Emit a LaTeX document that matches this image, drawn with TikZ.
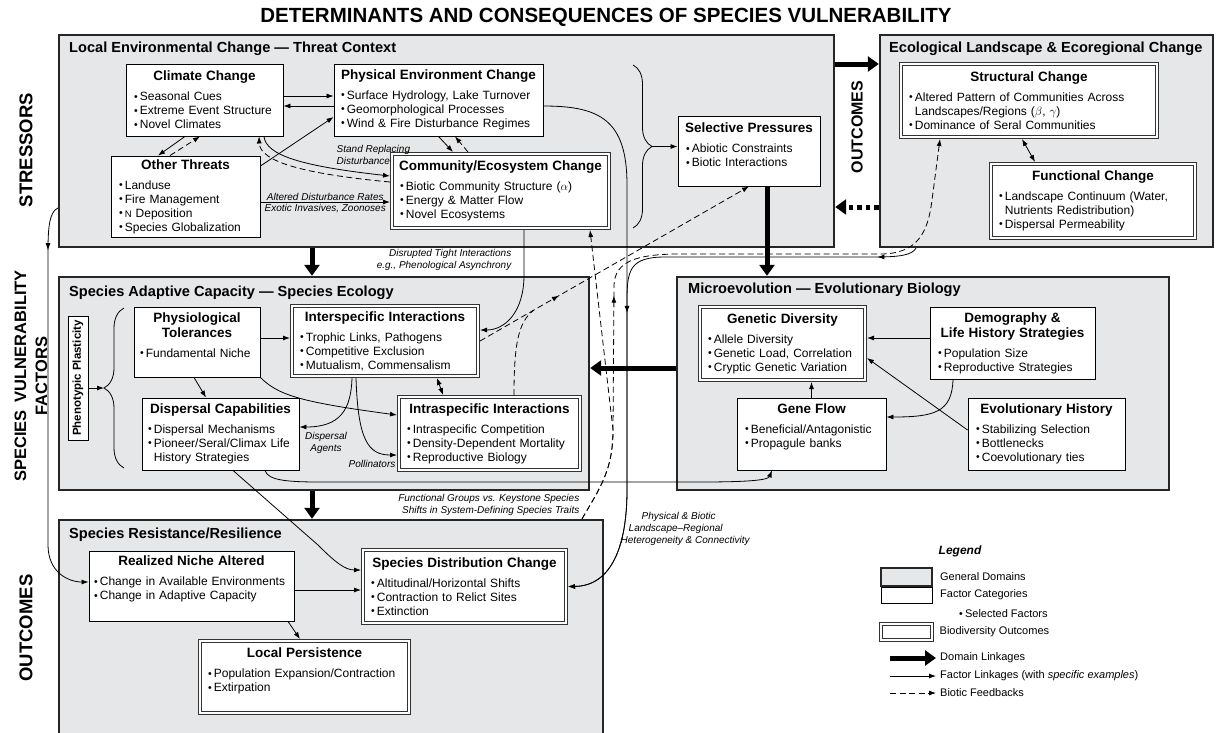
\documentclass[tikz,border=0pt]{standalone}
\usepackage{fontspec}
\setmainfont{Liberation Sans}
\usepackage{tikz}
\usetikzlibrary{arrows.meta,positioning,decorations.pathreplacing,decorations.markings}

\definecolor{domfill}{RGB}{230,231,232}
\hyphenpenalty=10000
\exhyphenpenalty=10000
\newcommand{\bxttl}[1]{\makebox[\linewidth]{\bfseries\fontsize{13.5}{15}\selectfont #1}}
\newcommand{\itm}{\raisebox{0.7pt}{\fontsize{10.5}{10}\selectfont\textbullet}\hspace{2.2pt}}
\newcommand{\itmind}{\hspace*{5.9pt}}
\newcommand{\bxpad}[1]{\rule[-#1]{0pt}{#1}}

\begin{document}
\begin{tikzpicture}[
    x=1pt, y=-1pt,
    >={Latex[length=7pt,width=5pt]},
    dombox/.style={draw=black!85, line width=2.4pt, fill=domfill},
    domttl/.style={anchor=west, inner sep=0pt, font=\bfseries\fontsize{14.6}{17}\selectfont},
    facbox/.style={draw=black, line width=0.9pt, fill=white, align=left, inner xsep=8pt, inner ysep=3pt, font=\fontsize{12}{14}\selectfont},
    outbox/.style={facbox, draw=black!80, double=white, double distance=2pt, line width=1pt, outer sep=2pt},
    sidelab/.style={rotate=90, align=center, font=\bfseries\fontsize{18.5}{22}\selectfont},
    lab/.style={font=\itshape\fontsize{10}{12}\selectfont, inner sep=1.5pt},
    arr/.style={->, line width=0.8pt},
    darr/.style={->, line width=0.8pt, dash pattern=on 6pt off 3.5pt},
    domarr/.style={line width=5pt, -{Triangle[length=11pt,width=15pt]}},
    domdot/.style={domarr, dash pattern=on 4.5pt off 4pt},
    brc/.style={decorate, decoration={brace, amplitude=#1}, line width=0.8pt},
    legtxt/.style={anchor=west, inner sep=1pt, font=\fontsize{11}{13}\selectfont}
]
    \useasboundingbox (0,0) rectangle (1217,732);

    \node[font=\bfseries\fontsize{20.5}{24}\selectfont] (ttl) at (606,17) {DETERMINANTS AND CONSEQUENCES OF SPECIES VULNERABILITY};

    % Row labels
    \node[sidelab] (lstr) at (26,150) {STRESSORS};
    \node[sidelab, font=\bfseries\fontsize{16.5}{21}\selectfont] (lsvf) at (31,376) {SPECIES\hspace{0.5em}VULNERABILITY\\FACTORS};
    \node[sidelab] (lout) at (26,628) {OUTCOMES};
    \node[sidelab, font=\bfseries\fontsize{16}{19}\selectfont] (lout2) at (857,127) {OUTCOMES};

    % General domains
    \node[dombox, minimum width=775pt, minimum height=212pt] (lec) at (446.5,141) {};
    \node[dombox, minimum width=333pt, minimum height=212pt] (ele) at (1046.5,141) {};
    \node[dombox, minimum width=530pt, minimum height=213pt] (sac) at (324,383.5) {};
    \node[dombox, minimum width=492pt, minimum height=213pt] (mev) at (923,383.5) {};
    \node[dombox, minimum width=544pt, minimum height=240pt] (srr) at (331,640) {};

    \node[domttl] (lect) at (69,49) {Local Environmental Change — Threat Context};
    \node[domttl] (elet) at (889,49) {Ecological Landscape \& Ecoregional Change};
    \node[domttl] (sact) at (69,293) {Species Adaptive Capacity — Species Ecology};
    \node[domttl] (mevt) at (688,290) {Microevolution — Evolutionary Biology};
    \node[domttl] (srrt) at (69,535) {Species Resistance/Resilience};

    % Stressors
    \node[facbox, text width=141pt, minimum height=72pt] (clim) at (204.5,100) {\bxttl{Climate Change}\\[6pt]\itm Seasonal Cues\\ \itm Extreme Event Structure\\ \itm Novel Climates};
    \node[facbox, text width=195pt, minimum height=72pt, inner xsep=7pt] (phys) at (438.5,100) {\bxttl{Physical Environment Change}\\[6pt]\itm Surface Hydrology, Lake Turnover\\ \itm Geomorphological Processes\\ \itm Wind \& Fire Disturbance Regimes};
    \node[facbox, text width=133pt, minimum height=81pt] (oth) at (185.5,196.5) {\bxttl{Other Threats}\\[6pt]\itm Landuse\\ \itm Fire Management\\ \itm {\fontsize{9.5}{14}\selectfont N} Deposition\\ \itm Species Globalization};
    \node[outbox, text width=201pt, minimum height=74pt] (comm) at (500.5,191) {\bxttl{Community/Ecosystem Change}\\[6pt]\itm Biotic Community Structure ($\alpha$)\\ \itm Energy \& Matter Flow\\ \itm Novel Ecosystems};
    \node[facbox, text width=126pt, minimum height=70pt] (sel) at (749,151) {\bxttl{Selective Pressures}\\[6pt]\itm Abiotic Constraints\\ \itm Biotic Interactions\bxpad{12pt}};

    \node[outbox, text width=240pt, minimum height=73pt] (struc) at (1029,100.5) {\bxttl{Structural Change}\\[6pt]\itm Altered Pattern of Communities Across\\ \itmind Landscapes/Regions ($\beta$, $\gamma$)\\ \itm Dominance of Seral Communities};
    \node[outbox, text width=188pt, minimum height=74pt] (func) at (1093,201) {\bxttl{Functional Change}\\[6pt]\itm Landscape Continuum (Water,\\ \itmind Nutrients Redistribution)\\ \itm Dispersal Permeability};

    % Species ecology
    \node[facbox, minimum width=20pt, minimum height=124pt, inner sep=0pt] (phen) at (78,378) {\rotatebox{90}{\bfseries\fontsize{11.5}{13}\selectfont Phenotypic Plasticity}};
    \node[facbox, text width=114pt, minimum height=70pt, inner xsep=6pt] (phyt) at (197,342) {\bxttl{Physiological}\\[1pt]\bxttl{Tolerances}\\[6pt]\itm Fundamental Niche\bxpad{14pt}};
    \node[outbox, text width=170pt, minimum height=70pt] (inter) at (385,341) {\bxttl{Interspecific Interactions}\\[6pt]\itm Trophic Links, Pathogens\\ \itm Competitive Exclusion\\ \itm Mutualism, Commensalism};
    \node[facbox, text width=145pt, minimum height=72pt, inner xsep=6pt] (disp) at (220.5,434) {\bxttl{Dispersal Capabilities}\\[6pt]\itm Dispersal Mechanisms\\ \itm Pioneer/Seral/Climax Life\\ \itmind History Strategies};
    \node[outbox, text width=165pt, minimum height=73pt] (intra) at (489.5,433.5) {\bxttl{Intraspecific Interactions}\\[6pt]\itm Intraspecific Competition\\ \itm Density-Dependent Mortality\\ \itm Reproductive Biology};

    % Microevolution
    \node[outbox, text width=149pt, minimum height=73pt] (gdiv) at (782.5,343.5) {\bxttl{Genetic Diversity}\\[6pt]\itm Allele Diversity\\ \itm Genetic Load, Correlation\\ \itm Cryptic Genetic Variation};
    \node[facbox, text width=149pt, minimum height=72pt] (demo) at (1012.5,343) {\bxttl{Demography \&}\\[1pt]\bxttl{Life History Strategies}\\[6pt]\itm Population Size\\ \itm Reproductive Strategies};
    \node[facbox, text width=133pt, minimum height=72pt] (gflow) at (811.5,434) {\bxttl{Gene Flow}\\[6pt]\itm Beneficial/Antagonistic\\ \itm Propagule banks\bxpad{17pt}};
    \node[facbox, text width=141pt, minimum height=72pt] (evol) at (1046.5,434) {\bxttl{Evolutionary History}\\[6pt]\itm Stabilizing Selection\\ \itm Bottlenecks\\ \itm Coevolutionary ties};

    % Resistance / resilience
    \node[facbox, text width=195pt, minimum height=70pt, inner xsep=5pt] (rniche) at (191.5,586) {\bxttl{Realized Niche Altered}\\[6pt]\itm Change in Available Environments\\ \itm Change in Adaptive Capacity\bxpad{16pt}};
    \node[outbox, text width=187pt, minimum height=73pt] (sdc) at (464.5,586.5) {\bxttl{Species Distribution Change}\\[6pt]\itm Altitudinal/Horizontal Shifts\\ \itm Contraction to Relict Sites\\ \itm Extinction};
    \node[outbox, text width=193pt, minimum height=72pt] (lpers) at (304.5,677) {\bxttl{Local Persistence}\\[6pt]\itm Population Expansion/Contraction\\ \itm Extirpation\bxpad{14pt}};

    % Domain linkages
    \draw[domarr] ([yshift=77pt]lec.east) -- ([yshift=77pt]lec.east -| ele.west);
    \draw[domdot] ([yshift=-66pt]ele.west) -- ([yshift=-66pt]ele.west -| lec.east);
    \draw[domarr] ([xshift=-134.5pt]lec.south) -- ([xshift=-134.5pt]lec.south |- sac.north);
    \draw[domarr] ([xshift=-12pt]sac.south) -- ([xshift=-12pt]sac.south |- srr.north);
    \draw[domarr] ([yshift=15.5pt]mev.west) -- ([yshift=15.5pt]mev.west -| sac.east);
    \draw[domarr] ([xshift=18pt]sel.south) -- ([xshift=18pt]sel.south |- mev.north);

    % Stressor links
    \draw[arr] ([yshift=4pt]clim.east) -- ([yshift=4pt]clim.east -| phys.west);
    \draw[arr] ([yshift=-6pt]phys.west) -- ([yshift=-6pt]phys.west -| clim.east);
    \draw[arr] ([xshift=-19.5pt]clim.south) -- ([xshift=-27.5pt]oth.north);
    \draw[darr] ([xshift=-15.5pt]oth.north) -- ([xshift=-4.5pt]clim.south);
    \draw[arr] ([yshift=30.5pt]oth.east) -- ([yshift=-17pt]phys.west);
    \draw[arr] ([xshift=59.5pt]clim.south) .. controls (266,155) and (300,166) .. ([yshift=15pt]comm.west);
    \draw[darr] ([yshift=9pt]comm.west) .. controls (305,174) and (260,162) .. ([xshift=54.5pt]clim.south);
    \draw[arr] ([yshift=-11pt]comm.west -| oth.east) -- node[lab, above] (ladr) {Altered Disturbance Rates} node[lab, below] (lexo) {Exotic Invasives, Zoonoses} ([yshift=-11pt]comm.west);
    \draw[arr] (phys.south) -- ([xshift=-47.5pt]comm.north);
    \draw[darr] ([xshift=-32.5pt]comm.north) -- ([xshift=16.5pt]phys.south);
    \node[lab, anchor=north west, align=left] (lsrd) at (335,144) {Stand Replacing\\Disturbance};

    % Brace to selective pressures
    \draw[brc=19pt] (633,65) -- (633,228);
    \coordinate (btip1) at (652,146.5);
    \draw[arr] (btip1) -- (btip1 -| sel.west);

    % Long factor linkages
    \draw[arr] ([yshift=-6pt]phys.east) .. controls (600,106) and (627,120) .. (627,185) -- (627,490) .. controls (627,545) and (612,586) .. (sdc.east);
    \draw[arr, postaction={decorate}, decoration={markings, mark=at position 41pt with {\arrow{>}}, mark=at position 335pt with {\arrow{>}}}] ([xshift=-130.5pt]ele.south) .. controls (912,255) and (900,257) .. (875,257) -- (665,257) .. controls (630,257) and (627,270) .. (627,300) -- (627,490) .. controls (627,545) and (612,586) .. (sdc.east);
    \draw[darr, postaction={decorate}, decoration={markings, mark=at position 230pt with {\arrow{>}}}] ([xshift=251pt]srr.north) .. controls (600,488) and (613,470) .. (613,430) -- (614,285) .. controls (615,262) and (635,254) .. (680,254) -- (880,254) .. controls (918,254) and (928,232) .. (932,200) -- ([xshift=-89pt]struc.south);
    \draw[darr] ([xshift=251pt]srr.north) .. controls (600,488) and (613,470) .. (613,430) -- ([xshift=89.5pt]comm.south);
    \draw[darr, postaction={decorate}, decoration={markings, mark=at position 91pt with {\arrow{>}}}] (inter.east) -- coordinate[pos=0.2] (jn) (sel.south);
    \draw[line width=0.8pt, dash pattern=on 6pt off 3.5pt] ([xshift=24.5pt]intra.north) .. controls (514,345) and (518,322) .. (jn);
    \draw[arr] ([xshift=23.5pt]comm.south) -- (524,275) .. controls (524,312) and (505,330) .. ([yshift=11pt]inter.east);
    \node[lab, anchor=east, align=right] (ldti) at (513,260) {Disrupted Tight Interactions\\e.g., Phenological Asynchrony};

    % Species ecology links
    \draw[brc=20pt] (124,468) -- (124,308);
    \coordinate (btip3) at (104,388);
    \draw[arr] ([yshift=-10pt]phen.east) -- (btip3);
    \draw[arr] ([yshift=4pt]phyt.east) -- ([yshift=4pt]phyt.east -| inter.west);
    \draw[arr] ([xshift=-3pt]phyt.south) -- ([xshift=-14.5pt]disp.north);
    \draw[arr] (phyt.south east) .. controls (278,395) and (300,402) .. ([yshift=18.5pt]intra.west);
    \draw[arr] ([xshift=-33pt]inter.south) .. controls (351,410) and (340,427) .. ([yshift=7pt]disp.east);
    \draw[arr] ([xshift=-29pt]inter.south) .. controls (358,440) and (368,455) .. ([yshift=-21.5pt]intra.west);
    \draw[<->, line width=0.8pt] ([xshift=52pt]inter.south) -- ([xshift=-46.5pt]intra.north);
    \node[lab, align=center] (ldag) at (326,443) {Dispersal\\Agents};
    \node[lab] (lpol) at (372,464) {Pollinators};
    \draw[arr] ([xshift=44.5pt]disp.south) .. controls (268,480) and (285,482) .. (320,482) -- (700,482) .. controls (750,482) and (768,480) .. ([xshift=-39.5pt]gflow.south);
    \draw[arr] ([xshift=12.5pt]disp.south) -- (318,545) .. controls (335,562) and (345,570) .. ([yshift=16.5pt]sdc.west);
    \node[lab, anchor=east, align=right] (lfgk) at (581,505) {Functional Groups vs. Keystone Species\\Shifts in System-Defining Species Traits};
    \node[lab, anchor=north west, align=left] (lpbl) at (619,511) {\hspace*{21pt}Physical \& Biotic\\\hspace*{8pt}Landscape–Regional\\Heterogeneity \& Connectivity};

    % Outcome links
    \draw[arr, postaction={decorate}, decoration={markings, mark=at position 45pt with {\arrow{>}}}] ([yshift=-67pt]lec.west) .. controls (50,212) and (48,225) .. (48,250) -- (48,545) .. controls (48,572) and (68,582) .. ([yshift=4pt]rniche.west);
    \draw[arr] ([yshift=-4pt]rniche.east) -- ([yshift=-4pt]rniche.east -| sdc.west);
    \draw[arr] ([xshift=96.5pt]rniche.south) -- ([xshift=-4.5pt]lpers.north);
    \draw[<->, line width=0.8pt] ([xshift=-7pt]struc.south) -- ([xshift=-58pt]func.north);

    % Microevolution links
    \draw[arr] ([yshift=5pt]demo.west) -- ([yshift=5pt]demo.west -| gdiv.east);
    \draw[arr] (gflow.north) -- (gflow.north |- gdiv.south);
    \draw[arr] ([yshift=4pt]evol.west) -- ([yshift=-14.5pt]gdiv.east);
    \draw[arr] ([xshift=-59.5pt]demo.south) .. controls (952,412) and (935,417) .. ([yshift=17pt]gflow.east);

    % Legend
    \node[font=\bfseries\itshape\fontsize{12}{14}\selectfont] (lgnd) at (960,551) {Legend};
    \node[dombox, line width=1.8pt, minimum width=51pt, minimum height=18pt] (lgdom) at (906.5,577) {};
    \node[legtxt, right=6pt of lgdom] (lgdomt) {General Domains};
    \node[facbox, minimum width=51pt, minimum height=16pt, inner sep=0pt] (lgfac) at (906.5,595) {};
    \node[legtxt, right=6.5pt of lgfac] (lgfact) {Factor Categories};
    \node[legtxt] (lgsel) at (958,614) {\itm Selected Factors};
    \node[outbox, minimum width=51pt, minimum height=16pt, inner sep=0pt] (lgout) at (906.5,632) {};
    \node[legtxt, right=4.5pt of lgout] (lgoutt) {Biodiversity Outcomes};
    \node[legtxt] (lgdl) at (939,658) {Domain Linkages};
    \node[legtxt] (lgfl) at (939,676) {Factor Linkages (with \textit{specific examples})};
    \node[legtxt] (lgbf) at (939,693) {Biotic Feedbacks};
    \coordinate (lgdls) at (890,658);
    \coordinate (lgfls) at (890,676);
    \coordinate (lgbfs) at (890,693);
    \draw[domarr] (lgdls) -- ([xshift=-3pt]lgdl.west);
    \draw[arr] (lgfls) -- ([xshift=-3pt]lgfl.west);
    \draw[darr] (lgbfs) -- ([xshift=-3pt]lgbf.west);
\end{tikzpicture}
\end{document}
